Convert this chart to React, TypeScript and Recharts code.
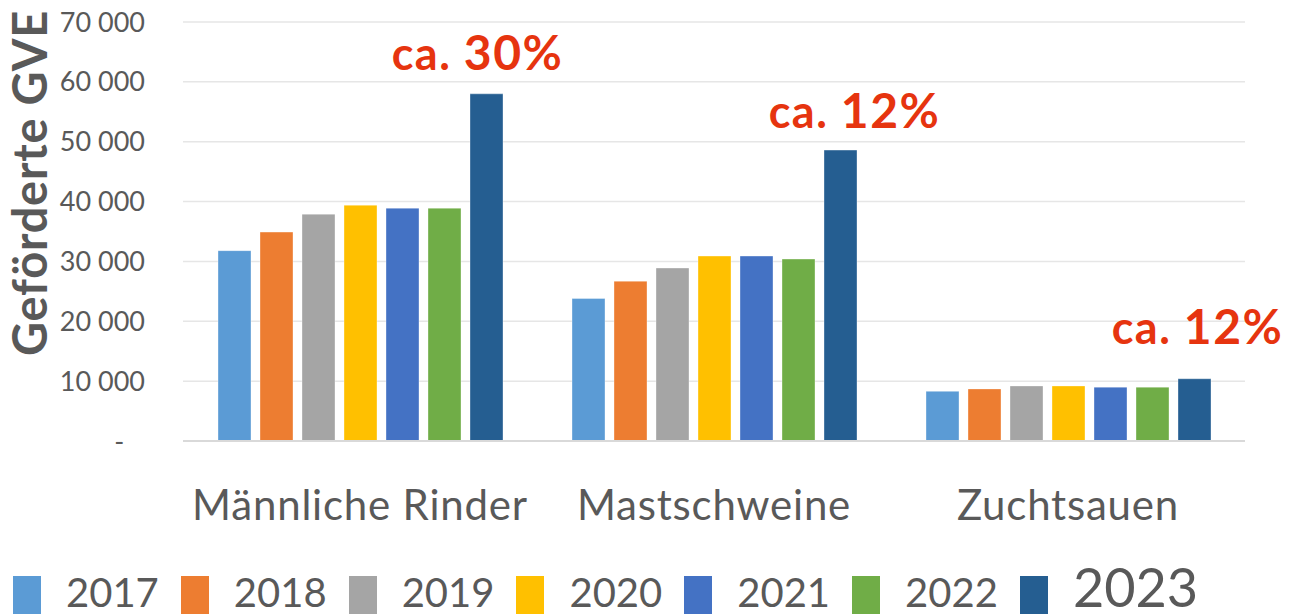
import { BarChart, Bar, XAxis, YAxis, CartesianGrid, Legend, LabelList } from 'recharts';

const categories = ['Männliche Rinder', 'Mastschweine', 'Zuchtsauen'];
const years = ['2017', '2018', '2019', '2020', '2021', '2022', '2023'];
const v2017 = [31800, 23800, 8300];
const v2018 = [34900, 26700, 8700];
const v2019 = [37900, 28900, 9200];
const v2020 = [39400, 30900, 9200];
const v2021 = [38900, 30900, 9000];
const v2022 = [38900, 30400, 9000];
const v2023 = [58000, 48600, 10400];
const yTicks = [0, 10000, 20000, 30000, 40000, 50000, 60000, 70000];
const annotations = ['30%', '12%', '12%'];

const colors = ['#5B9BD5', '#ED7D31', '#A5A5A5', '#FFC000', '#4472C4', '#70AD47', '#255E91'];
// small hand nudges so the red labels sit like in the slide
const annotationNudge = [
  { dx: -9, dy: -24 },
  { dx: 14, dy: -22 },
  { dx: 3, dy: -35 },
];

const series = [v2017, v2018, v2019, v2020, v2021, v2022, v2023];
const data = categories.map((name, i) => {
  const row: Record<string, string | number> = { name };
  years.forEach((y, j) => {
    row[y] = series[j][i];
  });
  return row;
});

const FONT = 'Lato, "Open Sans", sans-serif';
const GRAY = '#595959';
const RED = '#E6340F';

const fmtY = (v: number) => (v === 0 ? '-\u00a0\u00a0\u00a0' : `${v / 1000} 000`);

function Annotation(props: any) {
  const { x, y, width, index } = props;
  const n = annotationNudge[index] || { dx: 0, dy: -24 };
  return (
    <text
      x={x + width / 2 + n.dx}
      y={y + n.dy}
      textAnchor="middle"
      fill={RED}
      fontFamily={FONT}
      fontWeight={700}
      letterSpacing={1.5}
    >
      <tspan fontSize={45}>ca. </tspan>
      <tspan fontSize={48}>{annotations[index]}</tspan>
    </text>
  );
}

function YTitle() {
  return (
    <text
      x={47}
      y={183}
      transform="rotate(-90 47 183)"
      textAnchor="middle"
      fill={GRAY}
      fontFamily={FONT}
      fontWeight={700}
      fontSize={47}
      letterSpacing={0.8}
    >
      Geförderte GVE
    </text>
  );
}

function LegendBox() {
  return (
    <div
      style={{
        display: 'flex',
        alignItems: 'baseline',
        height: 54,
        lineHeight: 1,
        fontFamily: FONT,
        color: GRAY,
        paddingLeft: 13,
      }}
    >
      {years.map((y, i) => (
        <div key={y} style={{ display: 'flex', alignItems: 'baseline' }}>
          <span
            style={{
              display: 'inline-block',
              position: 'relative',
              top: 9,
              width: 28,
              height: 40,
              marginBottom: -9,
              background: colors[i],
              marginRight: 25,
            }}
          />
          <span style={{ fontSize: i === 6 ? 54 : 40, marginRight: 22 }}>{y}</span>
        </div>
      ))}
    </div>
  );
}

export default function App() {
  return (
    <div style={{ position: 'absolute', left: 0, top: 0, width: 1289, height: 614, overflow: 'hidden', background: '#fff' }}>
      <BarChart
        width={1289}
        height={614}
        data={data}
        margin={{ top: 22, right: 44, left: 0, bottom: 0 }}
        barCategoryGap={35}
        barGap={9}
      >
        <CartesianGrid vertical={false} stroke="#E6E6E6" strokeWidth={1.5} />
        <XAxis
          dataKey="name"
          height={119}
          tickLine={false}
          axisLine={{ stroke: '#D9D9D9', strokeWidth: 2 }}
          tickMargin={43}
          tick={{ fontSize: 42, fill: GRAY, fontFamily: FONT, letterSpacing: 0.8 }}
        />
        <YAxis
          width={183}
          domain={[0, 70000]}
          ticks={yTicks}
          tickFormatter={fmtY}
          axisLine={false}
          tickLine={false}
          tickMargin={32}
          tick={{ fontSize: 27, fill: GRAY, fontFamily: FONT }}
          label={<YTitle />}
        />
        <Legend
          verticalAlign="bottom"
          content={() => <LegendBox />}
          wrapperStyle={{ left: 0, bottom: 0, width: 1289, height: 54 }}
        />
        {years.map((y, i) => (
          <Bar
            key={y}
            dataKey={y}
            fill={colors[i]}
            stroke="#ffffff"
            strokeOpacity={0.35}
            isAnimationActive={false}
          >
            {i === 6 ? <LabelList dataKey={y} content={<Annotation />} /> : null}
          </Bar>
        ))}
      </BarChart>
    </div>
  );
}
